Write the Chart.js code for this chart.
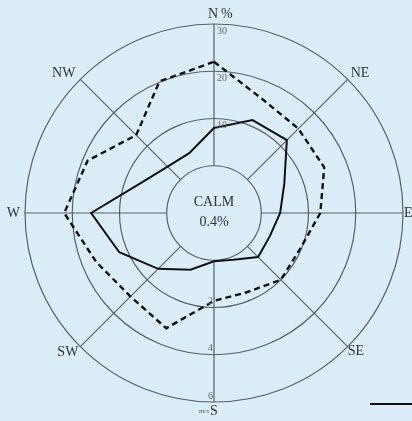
<!DOCTYPE html>
<html>
<head>
<meta charset="utf-8">
<script src="https://cdn.jsdelivr.net/npm/chart.js@4.4.1/dist/chart.umd.min.js"></script>
<style>
  html, body { margin: 0; padding: 0; background: #dbedf8; }
  canvas { display: block; }
</style>
</head>
<body>
<canvas id="rosa" width="412" height="421"></canvas>
<script>
// direcoes (16 rumos, sentido horario a partir do norte)
const direcoes = ['N', 'NNE', 'NE', 'ENE', 'E', 'ESE', 'SE', 'SSE', 'S', 'SSW', 'SW', 'WSW', 'W', 'WNW', 'NW', 'NNW'];

// frequencia (%) - linha cheia
const frequencia = [8.0, 11.3, 11.8, 6.1, 4.0, 2.8, 3.2, 0.7, 0.2, 3.0, 6.7, 11.7, 16.0, 6.7, 3.9, 3.7];

// velocidade media (m/s) - linha tracejada
const velocidade = [4.4, 3.25, 3.05, 3.05, 2.5, 1.95, 2.0, 1.63, 1.72, 3.28, 3.0, 3.4, 4.34, 3.79, 2.66, 4.03];

// rotulos dos aneis
const ticksPct = ['10', '20', '30'];
const ticksVel = ['2', '4', '6'];
const calma = '0.4%';

// 2 m/s ocupa o mesmo anel que 10 %
const velEscala = velocidade.map(v => v * 5);

const serif = '"Liberation Serif", "DejaVu Serif", serif';

const rosaPlugin = {
    id: 'rosa',
    beforeDatasetsDraw(chart) {
        const r = chart.scales.r;
        const ctx = chart.ctx;
        const r0 = r.getDistanceFromCenterForValue(0);
        ctx.save();
        ctx.strokeStyle = '#5a5f66';
        ctx.lineWidth = 1.2;
        for (let i = 0; i < 16; i += 2) {
            const a = r.getPointPosition(i, r0);
            const b = r.getPointPosition(i, r.drawingArea);
            ctx.beginPath();
            ctx.moveTo(a.x, a.y);
            ctx.lineTo(b.x, b.y);
            ctx.stroke();
        }
        ctx.restore();
    },
    afterDatasetsDraw(chart) {
        const r = chart.scales.r;
        const ctx = chart.ctx;
        const cx = r.xCenter, cy = r.yCenter, R = r.drawingArea;
        ctx.save();
        ctx.fillStyle = '#333';
        ctx.font = '14px ' + serif;
        ctx.textBaseline = 'middle';

        // pontos cardeais
        ctx.textAlign = 'center';
        ctx.fillText('N', cx - 1, cy - R - 10);
        ctx.textAlign = 'left';
        ctx.fillText('%', cx + 7, cy - R - 10);
        ctx.textAlign = 'right';
        ctx.fillText('W', cx - R - 5, cy);
        ctx.textAlign = 'left';
        ctx.fillText('E', cx + R + 1, cy);
        const ne = r.getPointPosition(2, R);
        const se = r.getPointPosition(6, R);
        const sw = r.getPointPosition(10, R);
        const nw = r.getPointPosition(14, R);
        ctx.textAlign = 'left';
        ctx.fillText('NE', ne.x + 3, ne.y - 6);
        ctx.fillText('SE', se.x, se.y + 5);
        ctx.textAlign = 'right';
        ctx.fillText('NW', nw.x - 5, nw.y - 6);
        ctx.fillText('SW', sw.x - 2, sw.y + 6);
        ctx.textAlign = 'left';
        ctx.textBaseline = 'alphabetic';
        ctx.fillText('S', cx - 4, cy + R + 13);
        ctx.font = '7px ' + serif;
        ctx.fillStyle = '#555';
        ctx.textAlign = 'right';
        ctx.fillText('m/s', cx - 5, cy + R + 11);

        // calmaria
        ctx.fillStyle = '#333';
        ctx.font = '14px ' + serif;
        ctx.textAlign = 'center';
        ctx.textBaseline = 'middle';
        ctx.fillText('CALM', cx, cy - 11);
        ctx.fillText(calma, cx, cy + 9);

        // rotulos dos aneis
        ctx.font = '10px ' + serif;
        ctx.fillStyle = '#666';
        ctx.textBaseline = 'top';
        ctx.textAlign = 'left';
        ticksPct.forEach(t => {
            const d = r.getDistanceFromCenterForValue(Number(t));
            ctx.fillText(t, cx + 3, cy - d + 2);
        });
        ctx.textBaseline = 'bottom';
        ctx.textAlign = 'right';
        ticksVel.forEach(t => {
            const d = r.getDistanceFromCenterForValue(Number(t) * 5);
            ctx.fillText(t, cx - 1, cy + d - 1);
        });

        // traco no canto
        ctx.strokeStyle = '#111';
        ctx.lineWidth = 2;
        ctx.beginPath();
        ctx.moveTo(370, 404);
        ctx.lineTo(412, 404);
        ctx.stroke();
        ctx.restore();
    }
};

new Chart(document.getElementById('rosa'), {
    type: 'radar',
    data: {
        labels: direcoes,
        datasets: [
            {
                label: 'Frequência (%)',
                data: frequencia,
                borderColor: '#111',
                borderWidth: 2,
                fill: false,
                pointRadius: 0,
                tension: 0
            },
            {
                label: 'Velocidade (m/s)',
                data: velEscala,
                borderColor: '#111',
                borderWidth: 2.4,
                borderDash: [6, 4],
                fill: false,
                pointRadius: 0,
                tension: 0
            }
        ]
    },
    plugins: [rosaPlugin],
    options: {
        responsive: false,
        animation: false,
        layout: { padding: { left: 25, right: 9, top: 24, bottom: 19 } },
        plugins: {
            legend: { display: false },
            tooltip: { enabled: false }
        },
        scales: {
            r: {
                min: -10,
                max: 30,
                ticks: { display: false, stepSize: 10 },
                pointLabels: { display: false },
                angleLines: { display: false },
                grid: { circular: true, color: '#5a5f66', lineWidth: 1.2 }
            }
        }
    }
});
</script>
</body>
</html>
